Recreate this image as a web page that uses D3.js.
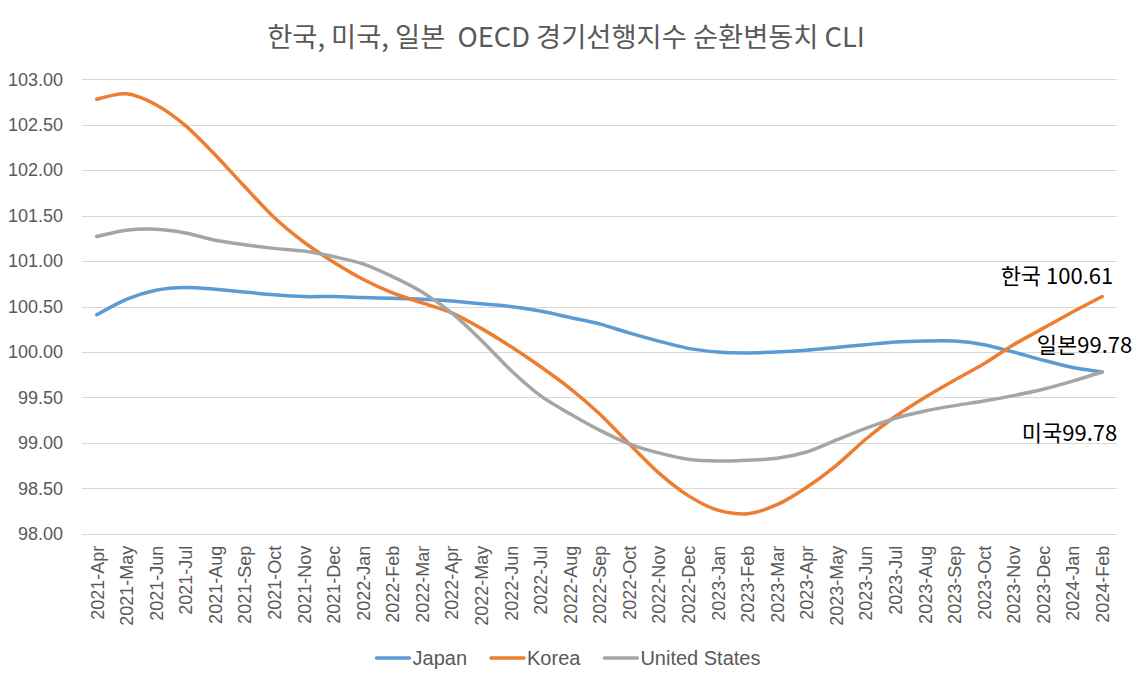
<!DOCTYPE html>
<html><head><meta charset="utf-8">
<script src="https://cdn.jsdelivr.net/npm/d3@7"></script>
<style>
html,body{margin:0;padding:0;background:#fff;}
svg{display:block;}
</style></head>
<body>
<svg id="chart" width="1133" height="686"></svg>
<script>
const months = ["2021-Apr","2021-May","2021-Jun","2021-Jul","2021-Aug","2021-Sep","2021-Oct","2021-Nov","2021-Dec",
"2022-Jan","2022-Feb","2022-Mar","2022-Apr","2022-May","2022-Jun","2022-Jul","2022-Aug","2022-Sep","2022-Oct","2022-Nov","2022-Dec",
"2023-Jan","2023-Feb","2023-Mar","2023-Apr","2023-May","2023-Jun","2023-Jul","2023-Aug","2023-Sep","2023-Oct","2023-Nov","2023-Dec",
"2024-Jan","2024-Feb"];
const japan = [100.41,100.58,100.68,100.71,100.69,100.66,100.63,100.61,100.61,100.60,100.59,100.58,100.56,100.53,100.50,100.45,100.38,100.31,100.21,100.12,100.04,100.00,99.99,100.00,100.02,100.05,100.08,100.11,100.12,100.12,100.08,100.00,99.91,99.83,99.78];
const korea = [102.78,102.84,102.72,102.49,102.17,101.82,101.48,101.21,100.99,100.80,100.65,100.54,100.43,100.26,100.06,99.84,99.60,99.32,98.99,98.67,98.42,98.26,98.22,98.32,98.51,98.75,99.04,99.29,99.50,99.69,99.87,100.08,100.26,100.44,100.61];
const usa = [101.27,101.34,101.35,101.31,101.23,101.18,101.14,101.11,101.05,100.97,100.83,100.66,100.43,100.13,99.80,99.52,99.32,99.14,98.99,98.89,98.82,98.80,98.81,98.83,98.90,99.03,99.16,99.27,99.35,99.41,99.46,99.52,99.59,99.68,99.78];
const seriesNames = ["Japan","Korea","United States"];
const yTicks = [98.0,98.5,99.0,99.5,100.0,100.5,101.0,101.5,102.0,102.5,103.0];
const titleText = "한국, 미국, 일본  OECD 경기선행지수 순환변동치 CLI";
const endLabels = ["일본99.78","한국 100.61","미국99.78"];

const colors = ["#5B9BD5","#ED7D31","#A5A5A5"];
const seriesData = [japan, korea, usa];

const svg = d3.select("#chart");
const pLeft = 82, pRight = 1117, pTop = 79.3, pBottom = 533.8;

const x = d3.scalePoint().domain(months).range([pLeft, pRight]).padding(0.5);
const y = d3.scaleLinear().domain([98, 103]).range([pBottom, pTop]);

// title
svg.append("text").attr("x", 566).attr("y", 47).attr("text-anchor","middle")
  .attr("font-family","'Noto Sans CJK KR', sans-serif").attr("font-size",27.3)
  .style("white-space","pre")
  .attr("fill","#595959").text(titleText);

// gridlines
svg.append("g").selectAll("line").data(yTicks).join("line")
  .attr("x1",pLeft).attr("x2",pRight)
  .attr("y1",d=>Math.round(y(d))+0.5).attr("y2",d=>Math.round(y(d))+0.5)
  .attr("stroke","#d9d9d9").attr("stroke-width",1);

// y axis
const yAxis = svg.append("g").attr("transform",`translate(${pLeft},0)`)
  .call(d3.axisLeft(y).tickValues(yTicks).tickFormat(d3.format(".2f")).tickSize(0).tickPadding(19));
yAxis.select(".domain").remove();
yAxis.selectAll("text").attr("font-family","'Liberation Sans', Arial, sans-serif").attr("font-size",18).attr("fill","#595959");

// x axis
const xAxis = svg.append("g").attr("transform",`translate(0,${pBottom})`)
  .call(d3.axisBottom(x).tickSize(0).tickPadding(0));
xAxis.select(".domain").remove();
xAxis.selectAll("text")
  .attr("font-family","'Liberation Sans', Arial, sans-serif").attr("font-size",18).attr("fill","#595959")
  .attr("transform","rotate(-90)").attr("text-anchor","end")
  .attr("x",-12).attr("y",0).attr("dy","0.35em");

// lines
const line = d3.line().x((d,i)=>x(months[i])).y(d=>y(d)).curve(d3.curveCardinal.tension(0.2));
svg.append("g").selectAll("path").data(seriesData).join("path")
  .attr("d", d=>line(d)).attr("fill","none")
  .attr("stroke",(d,i)=>colors[i]).attr("stroke-width",3.5)
  .attr("stroke-linejoin","round").attr("stroke-linecap","round");

// end labels
const lastM = months[months.length-1];
const labelOffsets = [[30,-19],[11,-13],[15,69]];
svg.append("g").selectAll("text").data(seriesData).join("text")
  .attr("x",(d,i)=>x(lastM)+labelOffsets[i][0])
  .attr("y",(d,i)=>y(d[d.length-1])+labelOffsets[i][1])
  .attr("text-anchor","end")
  .attr("font-family","'Noto Sans CJK KR', sans-serif").attr("font-size",22).attr("fill","#000")
  .text((d,i)=>endLabels[i]);

// legend
const lg = svg.append("g");
let cx = 0;
const gap = 23;
seriesNames.forEach((n,i)=>{
  const g = lg.append("g");
  g.append("line").attr("x1",1).attr("x2",34).attr("y1",0).attr("y2",0)
    .attr("stroke",colors[i]).attr("stroke-width",3.5).attr("stroke-linecap","round");
  const t = g.append("text").attr("x",37).attr("y",0).attr("dy","0.35em")
    .attr("font-family","'Liberation Sans', Arial, sans-serif").attr("font-size",20).attr("fill","#595959").text(n);
  const w = 37 + t.node().getComputedTextLength();
  g.attr("transform",`translate(${cx},0)`);
  cx += w + gap;
});
const total = cx - gap;
lg.attr("transform",`translate(${568 - total/2},658)`);
</script>
</body></html>
